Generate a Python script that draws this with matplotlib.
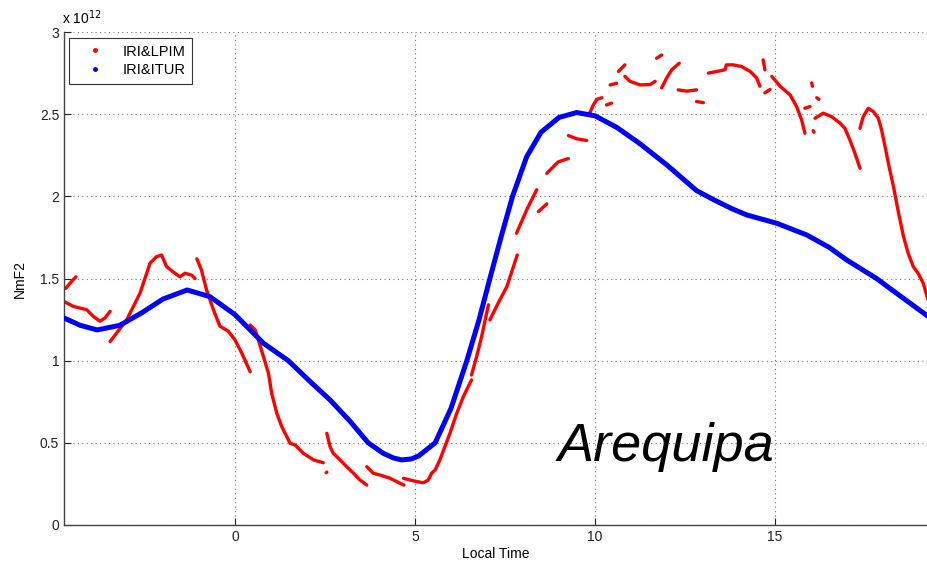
import matplotlib
matplotlib.use("Agg")
import matplotlib.pyplot as plt
from matplotlib.lines import Line2D

plt.rcParams["font.family"] = ["Liberation Sans", "DejaVu Sans"]

# NmF2 values in units of 1e12, local time in hours
ITUR_LT = [-4.75, -4.3, -3.83, -3.2, -2.6, -2.0, -1.33, -0.7, 0.0, 0.79, 1.48, 2.1, 2.64,
           3.2, 3.7, 4.12, 4.4, 4.63, 4.9, 5.1, 5.56, 6.0, 6.44, 6.78, 7.08, 7.4, 7.71, 8.1,
           8.5, 9.0, 9.49, 10.0, 10.6, 11.25, 12.0, 12.82, 13.29, 13.8, 14.21, 15.05, 15.88,
           16.5, 16.99, 17.82, 18.5, 19.25]
ITUR_NMF2 = [1.26, 1.215, 1.187, 1.215, 1.29, 1.375, 1.43, 1.39, 1.28, 1.106, 1.0, 0.87, 0.761,
             0.63, 0.5, 0.436, 0.408, 0.396, 0.402, 0.42, 0.5, 0.71, 1.0, 1.25, 1.5, 1.76, 2.0,
             2.24, 2.39, 2.48, 2.51, 2.49, 2.42, 2.32, 2.19, 2.035, 1.98, 1.925, 1.887, 1.836,
             1.765, 1.69, 1.613, 1.5, 1.39, 1.27]

# LPIM output comes in broken pieces (gaps where the model had no solution)
LPIM_SEGMENTS = [
    ([-4.7, -4.55, -4.42], [1.44, 1.48, 1.51]),
    ([-4.75, -4.49, -4.12, -3.94, -3.75, -3.61, -3.47], [1.36, 1.33, 1.31, 1.27, 1.24, 1.26, 1.30]),
    ([-3.47, -3.01, -2.64, -2.36, -2.18, -2.04, -1.90, -1.67, -1.53, -1.39, -1.20, -1.11],
     [1.116, 1.248, 1.41, 1.593, 1.633, 1.643, 1.572, 1.532, 1.51, 1.532, 1.52, 1.50]),
    ([-1.06, -0.93, -0.79, -0.60, -0.42, -0.19, 0.0, 0.19, 0.42],
     [1.62, 1.55, 1.43, 1.31, 1.21, 1.18, 1.126, 1.045, 0.933]),
    ([0.42, 0.56, 0.65, 0.79, 0.93, 1.02, 1.16, 1.30, 1.44, 1.53, 1.67, 1.90, 2.18, 2.45],
     [1.217, 1.187, 1.126, 1.024, 0.923, 0.80, 0.68, 0.598, 0.537, 0.497, 0.487, 0.436, 0.396, 0.379]),
    ([2.53, 2.55], [0.318, 0.322]),
    ([2.55, 2.64, 2.73, 2.92, 3.10, 3.29, 3.47, 3.66],
     [0.558, 0.477, 0.436, 0.396, 0.355, 0.315, 0.274, 0.243]),
    ([3.66, 3.84, 4.03, 4.31, 4.49, 4.69], [0.355, 0.315, 0.304, 0.284, 0.264, 0.243]),
    ([4.68, 4.86, 5.05, 5.23, 5.37, 5.46, 5.56, 5.69, 5.83, 5.97, 6.16, 6.34, 6.57],
     [0.284, 0.274, 0.264, 0.257, 0.274, 0.315, 0.335, 0.396, 0.477, 0.558, 0.68, 0.78, 0.883]),
    ([6.57, 6.71, 6.85, 7.04], [0.913, 1.024, 1.146, 1.34]),
    ([7.08, 7.31, 7.55, 7.84], [1.248, 1.35, 1.45, 1.643]),
    ([7.82, 8.10, 8.38], [1.775, 1.917, 2.04]),
    ([8.43, 8.66], [1.907, 1.954]),
    ([8.66, 8.98, 9.26], [2.14, 2.21, 2.23]),
    ([9.26, 9.49, 9.77], [2.37, 2.35, 2.34]),
    ([9.86, 9.95, 10.05, 10.19], [2.51, 2.555, 2.59, 2.60]),
    ([10.32, 10.46], [2.556, 2.567]),
    ([10.42, 10.60], [2.678, 2.688]),
    ([10.65, 10.83], [2.76, 2.80]),
    ([10.83, 10.97, 11.25, 11.53, 11.67], [2.73, 2.70, 2.678, 2.68, 2.70]),
    ([11.71, 11.85], [2.84, 2.86]),
    ([11.85, 11.99, 12.13, 12.34], [2.66, 2.72, 2.77, 2.81]),
    ([12.31, 12.55, 12.82], [2.648, 2.64, 2.648]),
    ([12.82, 13.01], [2.577, 2.57]),
    ([13.15, 13.38, 13.61, 13.65, 13.84, 14.07, 14.31, 14.49, 14.58],
     [2.75, 2.76, 2.77, 2.80, 2.80, 2.79, 2.76, 2.72, 2.67]),
    ([14.67, 14.72], [2.83, 2.77]),
    ([14.72, 14.86], [2.63, 2.65]),
    ([14.91, 15.14, 15.42, 15.60, 15.74, 15.83], [2.73, 2.67, 2.617, 2.546, 2.465, 2.384]),
    ([15.83, 15.97], [2.536, 2.546]),
    ([16.02, 16.04], [2.69, 2.67]),
    ([16.06, 16.08], [2.40, 2.39]),
    ([16.16, 16.22], [2.60, 2.59]),
    ([16.11, 16.34, 16.57, 16.81, 16.94, 17.08, 17.22, 17.36],
     [2.475, 2.506, 2.485, 2.445, 2.414, 2.343, 2.262, 2.171]),
    ([17.36, 17.45, 17.59, 17.73, 17.87, 17.96, 18.06, 18.15, 18.29, 18.43, 18.57, 18.70,
      18.84, 18.98, 19.12, 19.25],
     [2.414, 2.485, 2.536, 2.516, 2.475, 2.404, 2.30, 2.20, 2.06, 1.90, 1.755, 1.653,
      1.572, 1.53, 1.47, 1.37]),
]

X_TICKS = [0, 5, 10, 15]
Y_TICKS = [0, 0.5, 1, 1.5, 2, 2.5, 3]
Y_TICK_LABELS = ["0", "0.5", "1", "1.5", "2", "2.5", "3"]

fig = plt.figure(figsize=(9.28, 5.70), dpi=100)
ax = fig.add_axes([64 / 928, 45 / 570, 864 / 928, 493 / 570])

for xs, ys in LPIM_SEGMENTS:
    ax.plot(xs, ys, color="#ff0000", lw=2.4, solid_capstyle="round",
            solid_joinstyle="round", zorder=2)
ax.plot(ITUR_LT, ITUR_NMF2, color="#0000ff", lw=3.6, solid_capstyle="round",
        solid_joinstyle="round", zorder=3)

ax.set_xlim(-4.75, 19.25)
ax.set_ylim(0, 3)
ax.set_xticks(X_TICKS)
ax.set_yticks(Y_TICKS)
ax.set_yticklabels(Y_TICK_LABELS)
ax.tick_params(direction="in", length=5, width=0.8, labelsize=10, colors="#222222")
ax.grid(True, linestyle=(0, (1, 3)), color="#777777", lw=0.8)
ax.spines["top"].set_visible(False)
ax.spines["right"].set_visible(False)
for s in ("left", "bottom"):
    ax.spines[s].set_color("#444444")
    ax.spines[s].set_linewidth(1.0)

ax.set_xlabel("Local Time", fontsize=10, labelpad=2)
ax.set_ylabel("NmF2", fontsize=10, labelpad=9)
fig.text(62 / 928, 1 - 18 / 570, r"x 10$^{12}$", fontsize=10, va="center", ha="left")

ax.text(8.97, 0.39, "Arequipa", fontsize=39, style="italic", ha="left", va="baseline")

handles = [
    Line2D([], [], ls="none", marker=".", color="#ff0000", markersize=5, label="IRI&LPIM"),
    Line2D([], [], ls="none", marker=".", color="#0000ff", markersize=5, label="IRI&ITUR"),
]
leg = ax.legend(handles=handles, loc="upper left", bbox_to_anchor=(5 / 864, 1 - 6 / 493),
                fontsize=10.5, fancybox=False, framealpha=1, edgecolor="#333333",
                borderaxespad=0, handletextpad=0.6, borderpad=0.45, labelspacing=0.3,
                handlelength=2.6)
leg.get_frame().set_linewidth(0.8)

fig.savefig("out.png", dpi=100)
